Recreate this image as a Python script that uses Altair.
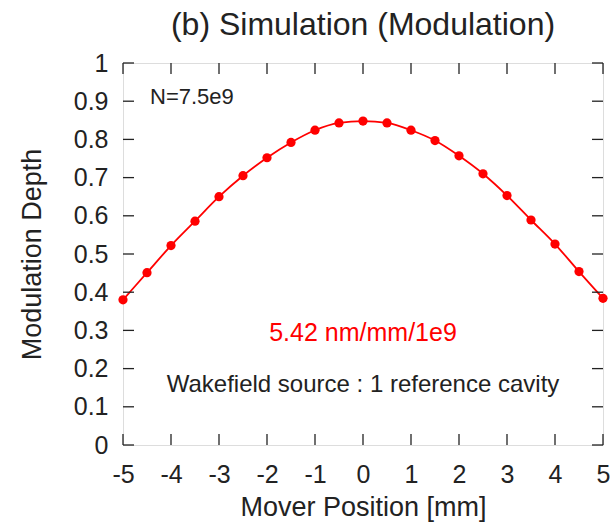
import altair as alt
import pandas as pd

# Mover scan: position [mm] vs simulated modulation depth
positions = [-5, -4.5, -4, -3.5, -3, -2.5, -2, -1.5, -1, -0.5, 0,
             0.5, 1, 1.5, 2, 2.5, 3, 3.5, 4, 4.5, 5]
depths = [0.380, 0.451, 0.522, 0.586, 0.650, 0.705, 0.752, 0.792, 0.824, 0.843, 0.848,
          0.843, 0.824, 0.797, 0.757, 0.710, 0.653, 0.589, 0.526, 0.454, 0.384]

x_ticks = [-5, -4, -3, -2, -1, 0, 1, 2, 3, 4, 5]
y_ticks = [0, 0.1, 0.2, 0.3, 0.4, 0.5, 0.6, 0.7, 0.8, 0.9, 1]

W, H = 480, 382
TICK = 11
FONT = "Liberation Sans"
INK = "#222222"

df = pd.DataFrame({"x": positions, "y": depths})
xt = pd.DataFrame({"x": x_ticks})
yt = pd.DataFrame({"y": y_ticks})

xs = alt.Scale(domain=[-5, 5], nice=False, zero=False)
ys = alt.Scale(domain=[0, 1], nice=False)

x_axis = alt.Axis(values=x_ticks, labelExpr="'' + datum.value", title="Mover Position [mm]",
                  tickSize=0, domain=False, grid=False, labelFontSize=25,
                  labelPadding=17, titleFontSize=27, titleFontWeight="normal",
                  titlePadding=7, labelColor=INK, titleColor=INK, labelFont=FONT,
                  titleFont=FONT, labelFlush=False, labelOverlap=False)
y_axis = alt.Axis(values=y_ticks, labelExpr="'' + datum.value", title="Modulation Depth",
                  tickSize=0, domain=False, grid=False, labelFontSize=25,
                  labelPadding=15, titleFontSize=27, titleFontWeight="normal",
                  titlePadding=27, labelColor=INK, titleColor=INK, labelFont=FONT,
                  titleFont=FONT, labelFlush=False, labelOverlap=False)

X = alt.X("x:Q", scale=xs, axis=x_axis)
Y = alt.Y("y:Q", scale=ys, axis=y_axis)

line = alt.Chart(df).mark_line(color="#ff0000", strokeWidth=1.8,
                               interpolate="monotone").encode(x=X, y=Y)
pts = alt.Chart(df).mark_circle(color="#ff0000", opacity=1, size=85).encode(x=X, y=Y)

# inward ticks on all four sides of the frame
tick_style = dict(color=INK, strokeWidth=1.3)
xb = alt.Chart(xt).mark_rule(**tick_style).encode(
    x=X, y=alt.value(H), y2=alt.value(H - TICK))
xtop = alt.Chart(xt).mark_rule(**tick_style).encode(
    x=X, y=alt.value(0), y2=alt.value(TICK))
yl = alt.Chart(yt).mark_rule(**tick_style).encode(
    y=Y, x=alt.value(0), x2=alt.value(TICK))
yr = alt.Chart(yt).mark_rule(**tick_style).encode(
    y=Y, x=alt.value(W), x2=alt.value(W - TICK))

n_label = alt.Chart(pd.DataFrame({"t": ["N=7.5e9"]})).mark_text(
    align="left", baseline="middle", fontSize=22, font=FONT, color=INK
).encode(text="t:N", x=alt.value(27), y=alt.value(34))

slope_label = alt.Chart(pd.DataFrame({"t": ["5.42 nm/mm/1e9"]})).mark_text(
    align="center", baseline="middle", fontSize=25, font=FONT, color="#ff0000"
).encode(text="t:N", x=alt.value(240), y=alt.value(270))

src_label = alt.Chart(pd.DataFrame({"t": ["Wakefield source : 1 reference cavity"]})).mark_text(
    align="center", baseline="middle", fontSize=24, font=FONT, color=INK
).encode(text="t:N", x=alt.value(240), y=alt.value(322))

chart = alt.layer(line, pts, xb, xtop, yl, yr, n_label, slope_label, src_label).properties(
    width=W, height=H,
    title=alt.Title("(b) Simulation (Modulation)", fontSize=32, font=FONT,
                    fontWeight="normal", color=INK, offset=9),
    padding={"left": 123, "top": 63, "right": 10, "bottom": 80},
    autosize=alt.AutoSizeParams(type="none"),
).configure_view(stroke=INK, strokeWidth=1.5).configure(background="white")

chart.save("out.html", embed_options={"renderer": "svg", "actions": False})
